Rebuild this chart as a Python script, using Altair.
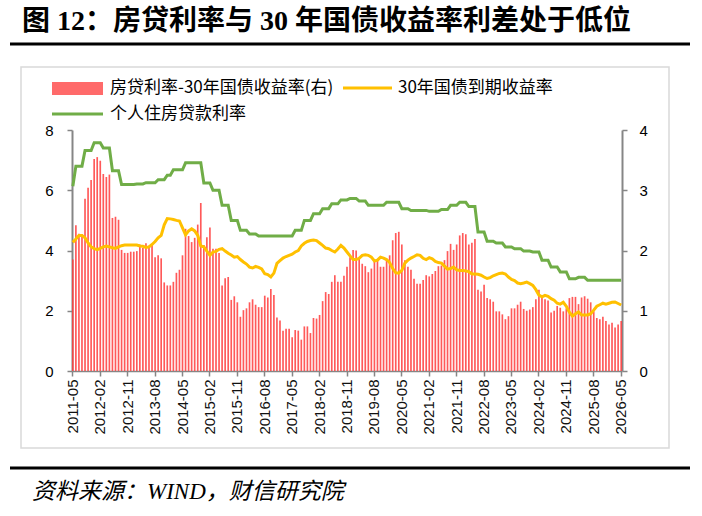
import altair as alt
import pandas as pd

# ---------------- data ----------------
months = pd.date_range("2011-05-01", periods=181, freq="MS").strftime("%Y-%m").tolist()

tick_labels = ["2011-05", "2012-02", "2012-11", "2013-08", "2014-05", "2015-02", "2015-11",
               "2016-08", "2017-05", "2018-02", "2018-11", "2019-08", "2020-05", "2021-02",
               "2021-11", "2022-08", "2023-05", "2024-02", "2024-11", "2025-08", "2026-05"]

# 房贷利率-30年国债收益率 (right axis)
spread = [
    1.85, 2.42, 2.28, 2.27, 2.86, 3.04, 3.17, 3.52, 3.55, 3.49,
    3.27, 3.22, 3.26, 2.54, 2.56, 2.51, 2.01, 1.96, 1.96, 1.98,
    1.98, 1.99, 2.10, 2.04, 2.12, 2.08, 2.10, 1.89, 1.92, 1.87,
    1.47, 1.42, 1.42, 1.48, 1.63, 1.68, 1.92, 2.36, 2.24, 2.14,
    2.21, 2.43, 2.79, 2.09, 2.22, 2.38, 2.03, 2.03, 1.96, 1.42,
    1.54, 1.56, 1.18, 1.24, 1.14, 0.90, 1.01, 1.04, 1.14, 1.19,
    1.10, 1.06, 1.06, 1.25, 1.22, 1.36, 1.26, 0.89, 0.84, 0.67,
    0.70, 0.70, 0.56, 0.68, 0.67, 0.52, 0.74, 0.74, 0.63, 0.88,
    0.87, 0.93, 1.16, 1.31, 1.28, 1.48, 1.59, 1.48, 1.48, 1.58,
    1.73, 1.89, 2.01, 2.00, 1.88, 1.78, 1.74, 1.64, 1.70, 1.81,
    1.84, 1.73, 1.73, 1.86, 1.92, 2.17, 2.29, 2.31, 2.10, 1.84,
    1.73, 1.68, 1.53, 1.45, 1.45, 1.51, 1.59, 1.57, 1.61, 1.66,
    1.74, 1.75, 1.84, 1.99, 2.11, 2.01, 2.10, 2.25, 2.29, 2.27,
    2.10, 2.13, 2.19, 1.35, 1.32, 1.43, 1.21, 1.19, 1.15, 0.99,
    0.99, 0.94, 0.86, 0.91, 1.04, 1.04, 1.10, 1.15, 1.03, 1.00,
    1.02, 1.06, 1.19, 1.35, 1.23, 1.19, 1.17, 0.97, 1.00, 1.08,
    1.05, 0.99, 1.04, 1.21, 1.23, 1.23, 1.11, 1.22, 1.24, 1.20,
    1.14, 0.99, 0.88, 0.86, 0.90, 0.83, 0.77, 0.80, 0.72, 0.77,
    0.83,
]

# 30年国债到期收益率 (left axis)
bond30 = [
    4.27, 4.38, 4.50, 4.50, 4.42, 4.25, 4.12, 4.06, 4.03, 4.07,
    4.12, 4.15, 4.12, 4.09, 4.07, 4.12, 4.16, 4.18, 4.18, 4.18,
    4.18, 4.18, 4.15, 4.14, 4.10, 4.12, 4.20, 4.30, 4.42, 4.50,
    4.85, 5.06, 5.05, 5.03, 5.00, 4.98, 4.75, 4.52, 4.65, 4.72,
    4.65, 4.50, 4.15, 4.12, 3.98, 3.84, 3.95, 3.97, 4.04, 4.06,
    3.98, 3.91, 3.85, 3.78, 3.80, 3.70, 3.62, 3.55, 3.45, 3.42,
    3.47, 3.44, 3.39, 3.23, 3.20, 3.12, 3.25, 3.57, 3.66, 3.75,
    3.80, 3.84, 3.88, 3.95, 4.00, 4.15, 4.24, 4.30, 4.33, 4.35,
    4.33, 4.25, 4.17, 4.08, 4.06, 4.00, 3.95, 4.05, 4.17, 4.08,
    3.95, 3.82, 3.70, 3.70, 3.74, 3.84, 3.86, 3.84, 3.78, 3.65,
    3.68, 3.78, 3.75, 3.70, 3.60, 3.40, 3.26, 3.25, 3.34, 3.58,
    3.68, 3.75, 3.80, 3.86, 3.84, 3.74, 3.70, 3.76, 3.72, 3.64,
    3.60, 3.58, 3.48, 3.38, 3.40, 3.45, 3.36, 3.34, 3.34, 3.32,
    3.30, 3.22, 3.22, 3.21, 3.18, 3.12, 3.07, 3.10, 3.16, 3.20,
    3.24, 3.25, 3.22, 3.12, 3.04, 3.00, 2.92, 2.90, 2.92, 2.95,
    2.90, 2.84, 2.70, 2.52, 2.46, 2.51, 2.48, 2.40, 2.35, 2.25,
    2.22, 2.28, 2.15, 1.95, 1.82, 1.90, 1.96, 1.86, 1.86, 1.86,
    1.90, 2.02, 2.15, 2.20, 2.25, 2.22, 2.25, 2.28, 2.29, 2.24,
    2.19,
]

# 个人住房贷款利率 (left axis)
mortgage = [
    6.13, 6.80, 6.80, 6.80, 7.32, 7.32, 7.32, 7.58, 7.58, 7.58,
    7.40, 7.40, 7.40, 6.65, 6.65, 6.65, 6.19, 6.19, 6.19, 6.19,
    6.19, 6.21, 6.21, 6.21, 6.25, 6.25, 6.25, 6.25, 6.35, 6.35,
    6.35, 6.50, 6.50, 6.68, 6.68, 6.68, 6.68, 6.91, 6.91, 6.91,
    6.91, 6.91, 6.91, 6.24, 6.24, 6.24, 6.00, 6.00, 6.00, 5.50,
    5.50, 5.50, 5.00, 5.00, 5.00, 4.67, 4.67, 4.67, 4.55, 4.55,
    4.55, 4.48, 4.48, 4.48, 4.48, 4.48, 4.48, 4.48, 4.48, 4.48,
    4.48, 4.48, 4.48, 4.67, 4.67, 4.67, 5.00, 5.00, 5.00, 5.22,
    5.22, 5.22, 5.39, 5.39, 5.39, 5.55, 5.55, 5.55, 5.68, 5.68,
    5.68, 5.73, 5.73, 5.73, 5.64, 5.64, 5.64, 5.50, 5.50, 5.50,
    5.50, 5.50, 5.50, 5.60, 5.60, 5.60, 5.60, 5.60, 5.39, 5.39,
    5.39, 5.33, 5.33, 5.33, 5.33, 5.33, 5.33, 5.30, 5.30, 5.30,
    5.30, 5.36, 5.36, 5.36, 5.50, 5.50, 5.50, 5.60, 5.60, 5.60,
    5.46, 5.46, 5.46, 4.61, 4.61, 4.61, 4.31, 4.31, 4.31, 4.25,
    4.25, 4.25, 4.12, 4.12, 4.12, 4.06, 4.06, 4.06, 3.98, 3.98,
    3.98, 3.95, 3.95, 3.95, 3.68, 3.68, 3.68, 3.45, 3.45, 3.45,
    3.29, 3.29, 3.29, 3.06, 3.06, 3.06, 3.11, 3.11, 3.11, 3.01,
    3.01, 3.01, 3.01, 3.01, 3.01, 3.01, 3.01, 3.01, 3.01, 3.01,
    3.01,
]

series_names = ["房贷利率-30年国债收益率(右)", "30年国债到期收益率", "个人住房贷款利率"]
colors = ["#FF3C3C", "#FFC000", "#70AD47"]
title_text = "图 12：房贷利率与 30 年国债收益率利差处于低位"
source_text = "资料来源：WIND，财信研究院"

# ---------------- frames ----------------
bar_df = pd.DataFrame({"month": months, "value": spread})
line_df = pd.concat([
    pd.DataFrame({"month": months, "value": bond30, "series": series_names[1]}),
    pd.DataFrame({"month": months, "value": mortgage, "series": series_names[2]}),
])

W, H = 550, 241
AX = "#868686"
CJK = "Noto Sans CJK SC"

x_enc = alt.X("month:O", sort=months, title=None,
              scale=alt.Scale(paddingInner=0.45, paddingOuter=0.0),
              axis=alt.Axis(values=tick_labels, labelAngle=270, tickSize=5, labelPadding=3,
                            labelFontSize=15, labelFont="Liberation Sans", domainColor=AX,
                            tickColor=AX, domainWidth=1.5, tickWidth=1.5, labelColor="#111111"))

bars = alt.Chart(bar_df).mark_bar(color=colors[0], opacity=0.85).encode(
    x=x_enc,
    y=alt.Y("value:Q", title=None,
            scale=alt.Scale(domain=[0, 4], nice=False),
            axis=alt.Axis(orient="right", values=[0, 1, 2, 3, 4], tickSize=5, labelPadding=12,
                          labelFontSize=15, labelFont="Liberation Sans", domainColor=AX,
                          tickColor=AX, domainWidth=2, tickWidth=1.5, grid=False)),
)

lines = alt.Chart(line_df).mark_line(strokeWidth=3).encode(
    x=alt.X("month:O", sort=months),
    y=alt.Y("value:Q", title=None,
            scale=alt.Scale(domain=[0, 8], nice=False),
            axis=alt.Axis(orient="left", values=[0, 2, 4, 6, 8], tickSize=5, labelPadding=14,
                          labelFontSize=15, labelFont="Liberation Sans", domainColor=AX,
                          tickColor=AX, domainWidth=2, tickWidth=1.5, grid=False)),
    color=alt.Color("series:N", scale=alt.Scale(domain=series_names[1:], range=colors[1:]),
                    legend=None),
    detail="series:N",
)

# ---------------- decorations (title, frame, legend, source) ----------------
one = pd.DataFrame({"k": [0]})

title = alt.Chart(pd.DataFrame({"t": [title_text]})).mark_text(
    align="left", baseline="middle", fontSize=28, fontWeight="bold",
    font="Liberation Serif, " + CJK, color="black"
).encode(text="t:N", x=alt.value(-50), y=alt.value(-108))

top_rule = alt.Chart(one).mark_rule(color="black", strokeWidth=3).encode(
    x=alt.value(-62), x2=alt.value(618), y=alt.value(-86))
bottom_rule = alt.Chart(one).mark_rule(color="black", strokeWidth=3).encode(
    x=alt.value(-62), x2=alt.value(618), y=alt.value(338))

frame = alt.Chart(one).mark_rect(fillOpacity=0, stroke="#d9d9d9", strokeWidth=1.5).encode(
    x=alt.value(-51), x2=alt.value(597), y=alt.value(-63), y2=alt.value(318))

source = alt.Chart(pd.DataFrame({"t": [source_text]})).mark_text(
    align="left", baseline="middle", fontSize=23, fontStyle="italic",
    font="Liberation Serif, " + CJK, color="black"
).encode(text="t:N", x=alt.value(-40), y=alt.value(362))

leg_bar = alt.Chart(one).mark_rect(color="#FF6A6A").encode(
    x=alt.value(-20), x2=alt.value(31), y=alt.value(-48), y2=alt.value(-35))
leg_yellow = alt.Chart(one).mark_rule(color=colors[1], strokeWidth=3).encode(
    x=alt.value(271), x2=alt.value(320), y=alt.value(-42))
leg_green = alt.Chart(one).mark_rule(color=colors[2], strokeWidth=3).encode(
    x=alt.value(-20), x2=alt.value(31), y=alt.value(-16))

leg_font = dict(align="left", baseline="middle", fontSize=17, font=CJK, color="#000000")
leg_t1 = alt.Chart(pd.DataFrame({"t": [series_names[0]]})).mark_text(**leg_font).encode(
    text="t:N", x=alt.value(38), y=alt.value(-42))
leg_t2 = alt.Chart(pd.DataFrame({"t": [series_names[1]]})).mark_text(**leg_font).encode(
    text="t:N", x=alt.value(326), y=alt.value(-42))
leg_t3 = alt.Chart(pd.DataFrame({"t": [series_names[2]]})).mark_text(**leg_font).encode(
    text="t:N", x=alt.value(38), y=alt.value(-16))

main = alt.layer(bars, lines).resolve_scale(y="independent")

chart = alt.layer(
    frame, main, title, top_rule, bottom_rule, source,
    leg_bar, leg_yellow, leg_green, leg_t1, leg_t2, leg_t3
).properties(
    width=W, height=H,
    autosize=alt.AutoSizeParams(type="none"),
    padding={"left": 72, "top": 130, "right": 80, "bottom": 145},
    background="white",
).configure_view(stroke=None)

chart.save("out.html", embed_options={"renderer": "svg", "actions": False})
